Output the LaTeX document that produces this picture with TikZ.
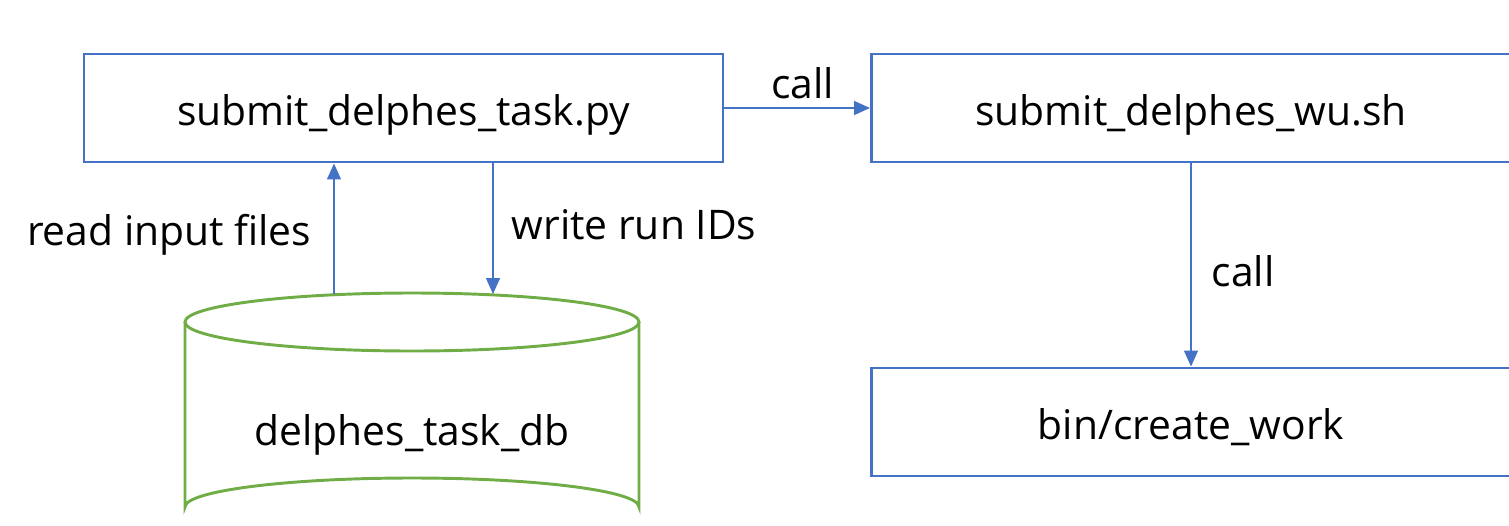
\documentclass[tikz,border=0pt]{standalone}
\usepackage{fontspec}
\setmainfont{Open Sans}
\usetikzlibrary{arrows.meta}
\definecolor{boxblue}{HTML}{4472C4}
\definecolor{dbgreen}{HTML}{70AD47}
\begin{document}
\begin{tikzpicture}[x=0.75pt,y=-0.75pt,
  procbox/.style={draw=boxblue,line width=2.2pt,minimum width=639*0.75pt,minimum height=108*0.75pt,inner sep=0pt,text height=25.5pt,text depth=0pt,font=\fontsize{30.6}{36}\selectfont},
  conn/.style={draw=boxblue,line width=1.1pt,-{Triangle[width=10.5pt,length=12pt]}},
  lbl/.style={font=\fontsize{30.6}{36}\selectfont,inner sep=0pt}]
\useasboundingbox (0,0) rectangle (1509,525);
\clip (0,0) rectangle (1509,525);
\node[procbox] (task) at (403.5,108) {submit\_delphes\_task.py};
\node[procbox] (wu) at (1191,108) {submit\_delphes\_wu.sh};
\node[procbox] (cw) at (1191,422) {bin/create\_work};
% cylinder
\draw[draw=dbgreen,line width=2.2pt] (185,322) -- (185,507) arc[start angle=180,end angle=360,x radius=227,y radius=29] -- (639,322);
\draw[draw=dbgreen,line width=2.2pt] (412,322) ellipse[x radius=227,y radius=29];
\node[lbl,anchor=base] (db) at (412,445) {delphes\_task\_db};
\coordinate (dbin) at (334,294);
\coordinate (dbout) at (493,294);
\draw[conn] (task.east) -- node[lbl,above=6pt,xshift=4pt] {call} (wu.west);
\draw[conn] (dbin) -- node[lbl,left=16.5pt,pos=0.45] {read input files} (dbin |- task.south);
\draw[conn] (task.south -| dbout) -- node[lbl,right=13.5pt,pos=0.47] {write run IDs} (dbout);
\draw[conn] (wu.south) -- node[lbl,right=15pt,pos=0.53] {call} (cw.north);
\end{tikzpicture}
\end{document}
